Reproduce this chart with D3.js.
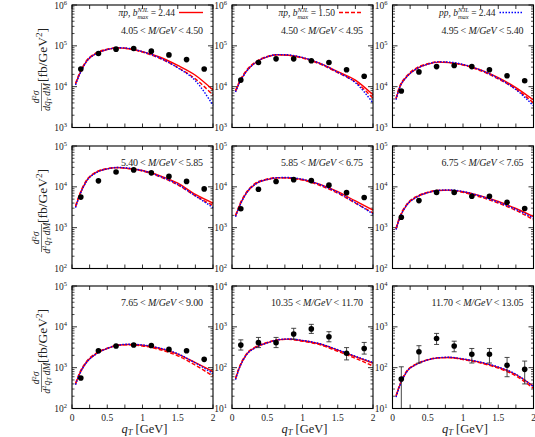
<!DOCTYPE html>
<html>
<head>
<meta charset="utf-8">
<script src="https://cdn.jsdelivr.net/npm/d3@7"></script>
<style>
body { margin: 0; background: #fff; }
text { font-family: "Liberation Serif", "DejaVu Serif", serif; fill: #222; }
</style>
</head>
<body>
<div id="chart"></div>
<script>
var qtGrid = [0.05, 0.1, 0.2, 0.35, 0.5, 0.65, 0.8, 1.0, 1.25, 1.5, 1.75, 2.0];
// q_T bin centres of the data
var dataQt = [0.125, 0.375, 0.625, 0.875, 1.125, 1.375, 1.625, 1.875];

// mass bins, one per panel
var massLo = ["4.05", "4.50", "4.95", "5.40", "5.85", "6.75", "7.65", "10.35", "11.70"];
var massHi = ["4.50", "4.95", "5.40", "5.85", "6.75", "7.65", "9.00", "11.70", "13.05"];

// y ranges (log) for each panel
var yDomains = [
    [1e3, 1e6], [1e3, 1e6], [1e3, 1e6],
    [1e2, 1e5], [1e2, 1e5], [1e2, 1e5],
    [1e2, 1e5], [1e1, 1e4], [1e1, 1e4]
];

// pi p, b_max = 2.44 (red solid)
var curveSolid = [
    [11500, 19000, 40700, 66000, 81300, 89100, 85100, 72400, 52500, 33100, 19000, 8300],
    [7600, 12000, 23400, 40700, 53700, 60300, 58900, 51300, 37200, 23400, 14500, 6300],
    [4900, 9500, 17400, 28200, 35500, 39800, 38900, 34700, 25700, 16600, 9500, 4700],
    [3200, 5750, 13500, 22900, 27500, 29500, 28200, 25100, 18600, 12300, 6500, 4000],
    [1900, 3200, 6900, 12300, 15100, 16600, 16600, 15100, 11500, 7600, 4500, 2700],
    [910, 1700, 3550, 5750, 7240, 8130, 8300, 7600, 6000, 4370, 2950, 1860],
    [390, 660, 1320, 2240, 2950, 3550, 3700, 3550, 2950, 2150, 1320, 800],
    [52, 95, 204, 324, 407, 479, 501, 457, 380, 269, 186, 129],
    [19.5, 35.5, 79, 123, 155, 174, 178, 162, 135, 102, 68, 35]
];
// pi p, b_max = 1.50 (red dashed)
var curveDashed = [
    [12000, 20000, 42000, 68000, 83000, 90000, 85000, 70000, 49000, 29500, 15500, 6200],
    [8000, 12800, 24500, 42000, 55000, 61000, 58500, 50000, 35500, 22000, 13000, 5200],
    [5200, 10000, 18200, 29500, 36500, 40500, 39000, 33800, 24500, 15500, 8700, 4000],
    [3400, 6100, 14000, 23500, 28000, 29800, 28000, 24300, 17500, 11200, 6000, 3500],
    [2000, 3400, 7200, 12800, 15600, 16800, 16400, 14600, 10800, 7000, 4000, 2300],
    [960, 1800, 3700, 5950, 7400, 8200, 8200, 7300, 5600, 4000, 2650, 1550],
    [410, 700, 1380, 2300, 3000, 3550, 3650, 3400, 2750, 1950, 1150, 620],
    [55, 100, 212, 335, 415, 485, 495, 445, 362, 252, 170, 110],
    [20.5, 37, 82, 126, 157, 175, 177, 158, 130, 97, 63, 31]
];
// p p, b_max = 2.44 (blue dotted)
var curveDotted = [
    [11000, 18500, 40000, 65000, 81000, 90000, 87000, 72000, 50000, 29000, 14000, 3500],
    [7400, 11800, 23000, 40500, 54000, 61000, 60000, 52000, 37000, 22500, 12500, 4000],
    [4800, 9300, 17200, 28000, 35500, 40500, 40000, 35000, 25500, 16000, 8500, 3400],
    [3100, 5600, 13200, 22500, 27500, 29800, 28800, 25000, 18000, 11500, 6000, 3100],
    [1850, 3150, 6800, 12200, 15100, 16800, 16900, 15300, 11300, 7300, 4100, 2150],
    [900, 1680, 3500, 5700, 7200, 8200, 8400, 7700, 5900, 4200, 2800, 1700],
    [380, 650, 1300, 2200, 2950, 3550, 3750, 3600, 3000, 2200, 1300, 720],
    [51, 93, 200, 320, 405, 480, 505, 465, 385, 275, 190, 135],
    [19, 35, 78, 122, 155, 175, 180, 164, 137, 104, 69, 34]
];

// measured points
var dataVals = [
    [27000, 65000, 83000, 86000, 74000, 60000, 46000, 27000],
    [14500, 39000, 48000, 48000, 43000, 39000, 26000, 18000],
    [7800, 23000, 31000, 33000, 31000, 26000, 18500, 14000],
    [5600, 14000, 23000, 26000, 22000, 18000, 13600, 8900],
    [2900, 8700, 13500, 15000, 14200, 11000, 7200, 5500],
    [1800, 4600, 7300, 7300, 5900, 5900, 4200, 2950],
    [560, 2600, 3400, 3600, 3500, 2800, 2600, 1600],
    [357, 410, 410, 665, 890, 570, 225, 295],
    [53, 245, 520, 340, 213, 213, 115, 91]
];
// error bars (low, high) where visible
var errLo = {
    7: [270, 310, 310, 500, 690, 430, 155, 215],
    8: [5, 130, 370, 245, 130, 130, 60, 40]
};
var errHi = {
    7: [480, 550, 550, 920, 1150, 760, 310, 415],
    8: [105, 345, 690, 445, 295, 295, 178, 145]
};

var legendLabels = [
    {pre: "πp", val: "2.44", dash: null, color: "#ff0000"},
    {pre: "πp", val: "1.50", dash: "4,2", color: "#ff0000"},
    {pre: "pp", val: "2.44", dash: "1.5,1.5", color: "#0000ff"}
];

var svgWidth = 535;
var svgHeight = 437;
var colX = [72, 232, 392.5];
var rowY = [5, 146, 286];
var panelW = 141;
var panelH = 122.5;

var svg = d3.select("#chart")
    .append("svg")
    .attr("width", svgWidth)
    .attr("height", svgHeight);

svg.append("rect").attr("width", svgWidth).attr("height", svgHeight).attr("fill", "#fff");

for (var i = 0; i < 9; i++) {
    drawPanel(i);
}

function drawPanel(i) {
    var row = Math.floor(i / 3);
    var col = i % 3;
    var g = svg.append("g")
        .attr("transform", `translate(${colX[col]}, ${rowY[row]})`);

    var x = d3.scaleLinear().domain([0, 2]).range([0, panelW]);
    var y = d3.scaleLog().domain(yDomains[i]).range([panelH, 0]);

    // x ticks, inward on bottom and top
    var xt = d3.range(0, 2.001, 0.25);
    xt.forEach(function(t) {
        g.append("line").attr("x1", x(t)).attr("x2", x(t))
            .attr("y1", panelH).attr("y2", panelH - 4)
            .attr("stroke", "#000").attr("stroke-width", 0.8);
        g.append("line").attr("x1", x(t)).attr("x2", x(t))
            .attr("y1", 0).attr("y2", 4)
            .attr("stroke", "#000").attr("stroke-width", 0.8);
    });

    // y ticks, major at decades, minor 2..9
    var lo = Math.round(Math.log10(yDomains[i][0]));
    var hi = Math.round(Math.log10(yDomains[i][1]));
    for (var d = lo; d <= hi; d++) {
        var yy = y(Math.pow(10, d));
        [[0, 5], [panelW, panelW - 5]].forEach(function(p) {
            g.append("line").attr("x1", p[0]).attr("x2", p[1])
                .attr("y1", yy).attr("y2", yy)
                .attr("stroke", "#000").attr("stroke-width", 0.8);
        });
        var lab = g.append("text")
            .attr("x", -5).attr("y", yy + 3.5)
            .attr("text-anchor", "end")
            .attr("font-size", 9.5)
            .text("10");
        lab.append("tspan").attr("dy", -4).attr("font-size", 6.5).text(d);
        if (d < hi) {
            for (var m = 2; m <= 9; m++) {
                var ym = y(m * Math.pow(10, d));
                [[0, 2.5], [panelW, panelW - 2.5]].forEach(function(p) {
                    g.append("line").attr("x1", p[0]).attr("x2", p[1])
                        .attr("y1", ym).attr("y2", ym)
                        .attr("stroke", "#000").attr("stroke-width", 0.7);
                });
            }
        }
    }

    // x tick labels on the bottom row
    if (row === 2) {
        [0, 0.5, 1, 1.5, 2].forEach(function(t) {
            g.append("text").attr("x", x(t)).attr("y", panelH + 12)
                .attr("text-anchor", "middle").attr("font-size", 9.5)
                .text(t);
        });
        var xl = g.append("text").attr("x", panelW / 2 + 2).attr("y", panelH + 24)
            .attr("text-anchor", "middle").attr("font-size", 12.5);
        xl.append("tspan").attr("font-style", "italic").text("q");
        xl.append("tspan").attr("font-style", "italic").attr("font-size", 8.5).attr("dy", 2.5).text("T");
        xl.append("tspan").attr("dy", -2.5).text(" [GeV]");
    }

    // theory curves
    var line = d3.line()
        .x((v, k) => x(qtGrid[k]))
        .y(v => y(v))
        .curve(d3.curveMonotoneX);

    g.append("path").datum(curveSolid[i])
        .attr("d", line).attr("fill", "none")
        .attr("stroke", "#ff0000").attr("stroke-width", 1.4);
    g.append("path").datum(curveDashed[i])
        .attr("d", line).attr("fill", "none")
        .attr("stroke", "#ff0000").attr("stroke-width", 1.4)
        .attr("stroke-dasharray", "4,2");
    g.append("path").datum(curveDotted[i])
        .attr("d", line).attr("fill", "none")
        .attr("stroke", "#0000ff").attr("stroke-width", 1.4)
        .attr("stroke-dasharray", "1.5,1.5");

    // error bars
    if (errLo[i]) {
        dataQt.forEach(function(q, k) {
            var y1 = Math.min(y(errLo[i][k]), panelH);
            var y2 = y(errHi[i][k]);
            g.append("line").attr("x1", x(q)).attr("x2", x(q))
                .attr("y1", y1).attr("y2", y2)
                .attr("stroke", "#333").attr("stroke-width", 0.9);
            g.append("line").attr("x1", x(q) - 2.5).attr("x2", x(q) + 2.5)
                .attr("y1", y2).attr("y2", y2)
                .attr("stroke", "#333").attr("stroke-width", 0.9);
            if (y1 < panelH) {
                g.append("line").attr("x1", x(q) - 2.5).attr("x2", x(q) + 2.5)
                    .attr("y1", y1).attr("y2", y1)
                    .attr("stroke", "#333").attr("stroke-width", 0.9);
            }
        });
    }

    // data points
    g.selectAll("circle.pt")
        .data(dataVals[i])
        .enter()
        .append("circle")
        .attr("cx", (v, k) => x(dataQt[k]))
        .attr("cy", v => y(v))
        .attr("r", 2.8)
        .attr("fill", "#000");

    // frame
    g.append("rect").attr("width", panelW).attr("height", panelH)
        .attr("fill", "none").attr("stroke", "#000").attr("stroke-width", 1.1);

    // mass bin label, stretched to the width seen in the picture
    var my = row === 0 ? 29 : 20;
    var extra = (massLo[i].length - 4) + (massHi[i].length - 4);
    var mt = g.append("text").attr("x", 131).attr("y", my)
        .attr("text-anchor", "end").attr("font-size", 10)
        .attr("textLength", 82 + extra * 5)
        .attr("lengthAdjust", "spacing");
    mt.append("tspan").text(massLo[i] + " < ");
    mt.append("tspan").attr("font-style", "italic").text("M/GeV");
    mt.append("tspan").text(" < " + massHi[i]);

    // legend entries in the top row
    if (row === 0) {
        var L = legendLabels[col];
        var lt = g.append("text").attr("x", 103).attr("y", 11)
            .attr("text-anchor", "end").attr("font-size", 9.5);
        lt.append("tspan").attr("font-style", "italic").text(L.pre + ", b");
        lt.append("tspan").attr("font-style", "italic").attr("font-size", 6.5)
            .attr("dy", -4).text("NJL");
        lt.append("tspan").attr("font-style", "italic").attr("font-size", 6.5)
            .attr("dx", -11).attr("dy", 7).text("max");
        lt.append("tspan").attr("dy", -3).text(" = " + L.val);
        g.append("line").attr("x1", 107).attr("x2", 131)
            .attr("y1", 7.5).attr("y2", 7.5)
            .attr("stroke", L.color).attr("stroke-width", 1.4)
            .attr("stroke-dasharray", L.dash);
    }

    // y axis title for each row
    if (col === 0) {
        var yc = rowY[row] + 63;
        var yt = svg.append("g")
            .attr("transform", `translate(41, ${yc}) rotate(-90)`);
        var num = yt.append("text").attr("x", -29).attr("y", -2)
            .attr("text-anchor", "middle").attr("font-size", 9.5);
        num.append("tspan").attr("font-style", "italic").text("d");
        num.append("tspan").attr("font-size", 6.5).attr("dy", -3.5).text("2");
        num.append("tspan").attr("font-style", "italic").attr("dy", 3.5).text("σ");
        yt.append("line").attr("x1", -43).attr("x2", -15)
            .attr("y1", 0.5).attr("y2", 0.5)
            .attr("stroke", "#222").attr("stroke-width", 0.6);
        var den = yt.append("text").attr("x", -29).attr("y", 8.5)
            .attr("text-anchor", "middle").attr("font-size", 9.5);
        if (row === 0) {
            den.append("tspan").attr("font-style", "italic").text("dq");
        } else {
            den.append("tspan").attr("font-style", "italic").text("d");
            den.append("tspan").attr("font-size", 6.5).attr("dy", -3.5).text("2");
            den.append("tspan").attr("font-style", "italic").attr("dy", 3.5).text("q");
        }
        den.append("tspan").attr("font-style", "italic").attr("font-size", 6.5).attr("dy", 1.5).text("T");
        den.append("tspan").attr("font-style", "italic").attr("dy", -1.5).text("\u2009dM");
        var br = yt.append("text").attr("x", 13).attr("y", 6)
            .attr("text-anchor", "middle").attr("font-size", 13.5);
        br.append("tspan").text("[fb/GeV");
        br.append("tspan").attr("font-size", 9).attr("dy", -5).text("2");
        br.append("tspan").attr("dy", 5).text("]");
    }
}
</script>
</body>
</html>
